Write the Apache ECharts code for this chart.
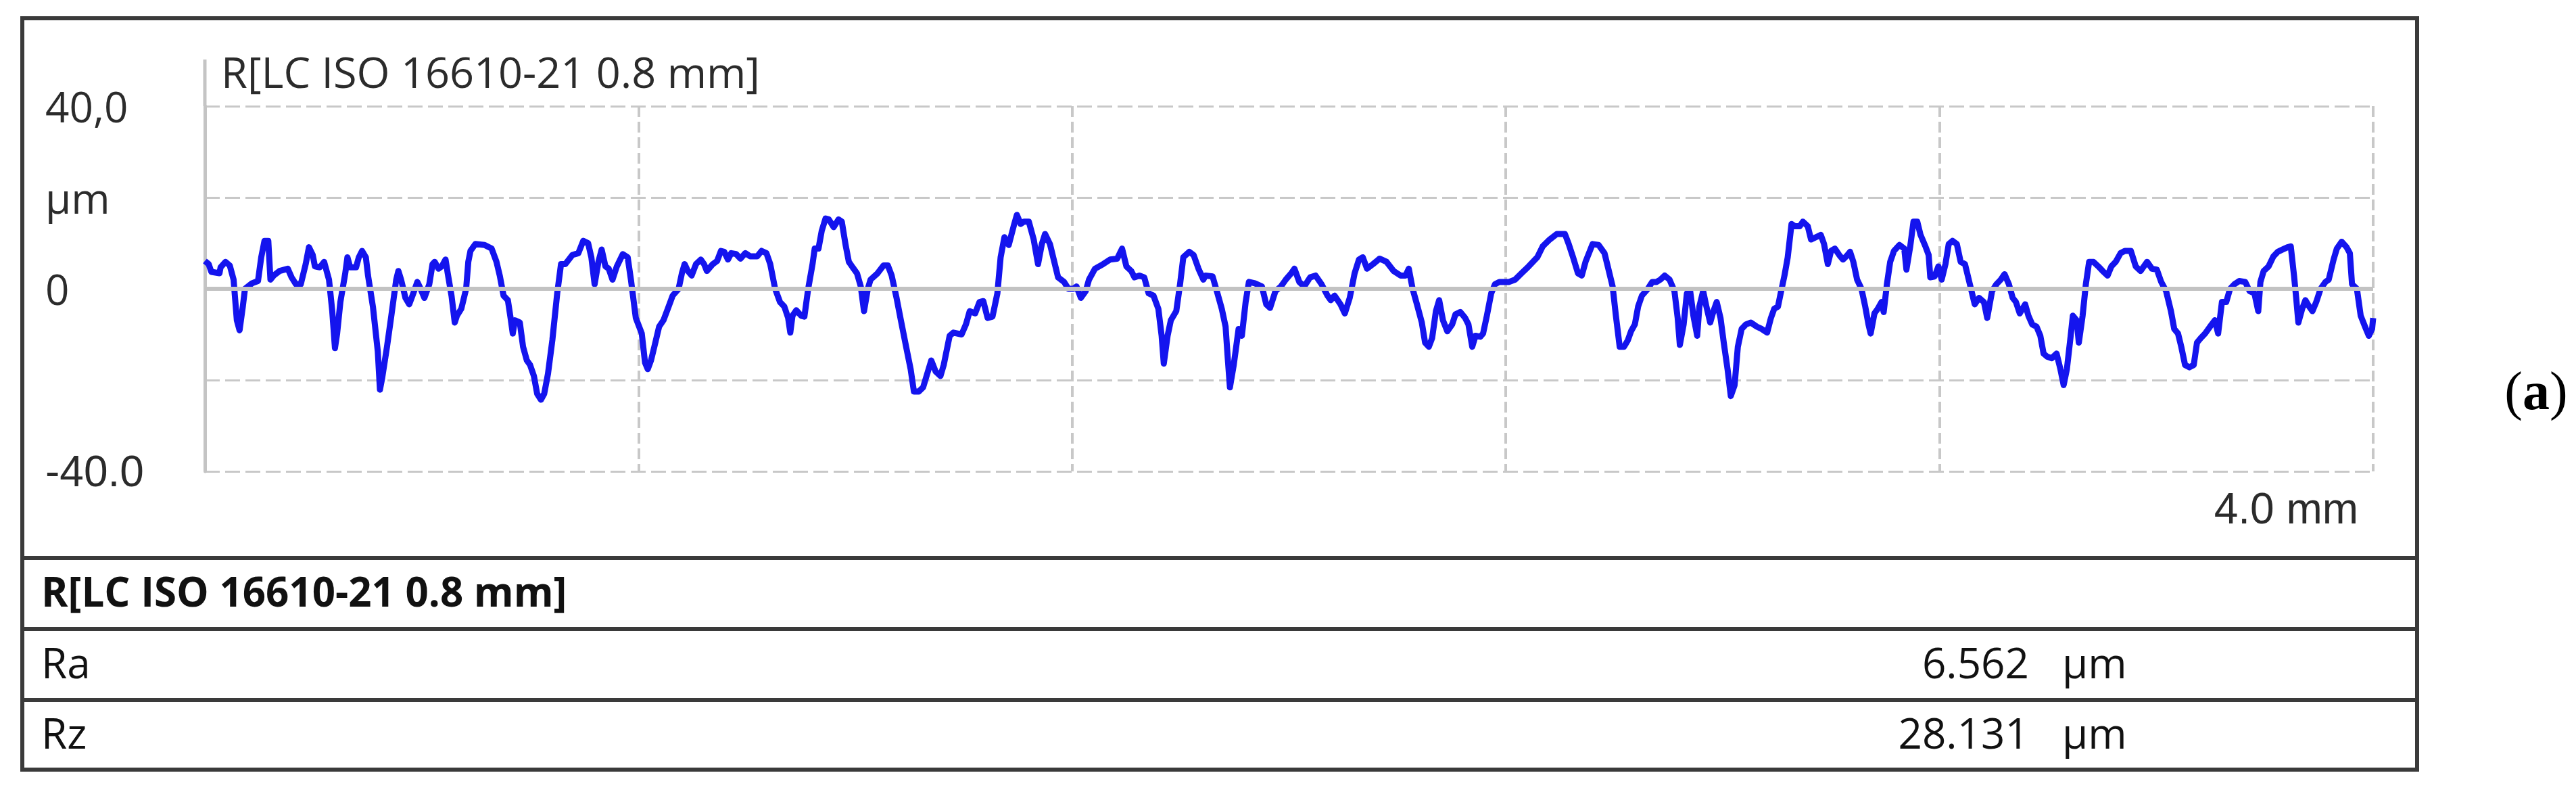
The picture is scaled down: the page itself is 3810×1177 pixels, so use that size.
<!DOCTYPE html>
<html><head><meta charset="utf-8">
<script src="https://cdn.jsdelivr.net/npm/echarts@6/dist/echarts.min.js"></script>
<style>html,body{margin:0;padding:0;background:#fff;}#c{width:3810px;height:1177px;}</style>
</head><body><div id="c"></div>
<script>
const chartTitle = 'R[LC ISO 16610-21 0.8 mm]';
const xEndLabel = '4.0 mm';
const yTickValues = [40, 20, 0, -20, -40];
const yTickText = ['40,0', 'µm', '0', '', '-40.0'];
const tableHeader = 'R[LC ISO 16610-21 0.8 mm]';
const paramNames = ['Ra', 'Rz'];
const paramValues = ['6.562', '28.131'];
const paramUnit = 'µm';
const panelLabel = 'a';

// profile: [position mm, height µm]
const seg1 = [[0.000,6.1],[0.007,5.4],[0.012,3.7],[0.027,3.4],[0.029,4.7],[0.038,5.9],[0.046,5.1],[0.053,2.0],[0.059,-6.9],[0.064,-9.1],[0.070,-3.9],[0.074,0.0],[0.087,1.2],[0.098,1.7],[0.104,6.9],[0.110,10.5],[0.117,10.5],[0.121,2.0],[0.127,2.9],[0.138,3.9],[0.153,4.4],[0.160,2.5],[0.168,1.0],[0.177,1.0],[0.186,5.4],[0.192,9.1],[0.199,7.4],[0.203,4.9],[0.212,4.7],[0.220,5.9],[0.229,2.0],[0.235,-4.9],[0.240,-13.0],[0.244,-9.8],[0.250,-2.9],[0.259,3.4],[0.263,6.9],[0.268,4.7],[0.279,4.7],[0.284,6.9],[0.290,8.3],[0.297,6.9],[0.301,2.9],[0.310,-3.9],[0.319,-13.7],[0.323,-22.1],[0.327,-19.6],[0.336,-12.7],[0.344,-5.9],[0.353,2.0],[0.357,3.9],[0.362,2.0],[0.370,-2.0],[0.377,-3.4],[0.383,-1.5],[0.392,1.5],[0.398,0.0],[0.405,-2.0],[0.414,1.0],[0.420,5.4],[0.424,5.9],[0.431,4.4],[0.437,4.9],[0.444,6.4],[0.448,3.4],[0.455,-1.5],[0.461,-7.4],[0.465,-5.9],[0.473,-4.4],[0.482,0.0],[0.486,5.9],[0.490,8.3],[0.499,9.8],[0.516,9.6],[0.529,8.8],[0.538,5.9],[0.544,2.9],[0.551,-1.5],[0.559,-2.5],[0.564,-6.4],[0.568,-9.8],[0.572,-6.9],[0.581,-7.4],[0.587,-12.7],[0.594,-15.7],[0.600,-16.7],[0.607,-19.1],[0.613,-23.0],[0.620,-24.3],[0.626,-23.0],[0.633,-18.6],[0.641,-11.3],[0.650,-1.0],[0.657,5.4]];
const seg2 = [[0.665,5.4],[0.678,7.4],[0.689,7.8],[0.698,10.5],[0.707,10.0],[0.713,6.9],[0.719,1.0],[0.726,5.9],[0.732,8.6],[0.739,4.9],[0.745,4.4],[0.752,2.0],[0.760,4.9],[0.771,7.6],[0.780,6.9],[0.786,2.0],[0.795,-6.4],[0.806,-9.8],[0.812,-16.2],[0.817,-17.6],[0.823,-15.7],[0.830,-12.3],[0.838,-8.3],[0.846,-6.9],[0.854,-4.4],[0.863,-1.5],[0.874,0.0],[0.880,3.4],[0.885,5.4],[0.891,3.9],[0.898,2.9],[0.906,5.4],[0.915,6.4],[0.921,5.4],[0.926,3.9],[0.937,5.4],[0.945,6.1],[0.952,8.3],[0.958,8.1],[0.965,6.4],[0.971,7.8],[0.980,7.6],[0.988,6.6],[0.997,7.8],[1.006,7.1],[1.019,7.1],[1.027,8.3],[1.036,7.8],[1.043,5.4],[1.052,0.0],[1.061,-2.9],[1.069,-3.9],[1.076,-6.4],[1.080,-9.6],[1.084,-5.9],[1.091,-4.7],[1.100,-5.9],[1.106,-6.1],[1.113,0.0],[1.121,5.4],[1.125,8.8],[1.132,8.8],[1.138,12.7],[1.145,15.4],[1.151,15.2],[1.160,13.5],[1.169,15.2],[1.175,14.7],[1.182,9.6],[1.188,5.9],[1.195,4.7],[1.203,3.4],[1.210,0.5],[1.216,-4.9],[1.223,0.0],[1.228,2.0],[1.241,3.4],[1.252,5.1],[1.260,5.1],[1.267,2.9],[1.276,-2.0],[1.284,-6.9],[1.293,-12.3],[1.302,-17.6],[1.308,-22.5],[1.317,-22.5],[1.325,-21.6]];
const seg3 = [[1.340,-15.7],[1.348,-18.1],[1.357,-19.1],[1.363,-16.7],[1.374,-10.3],[1.381,-9.6],[1.396,-10.0],[1.404,-7.8],[1.411,-4.9],[1.421,-5.4],[1.429,-2.9],[1.436,-2.7],[1.444,-6.4],[1.453,-6.1],[1.462,-1.0],[1.468,6.9],[1.475,11.3],[1.483,9.6],[1.492,13.7],[1.498,16.2],[1.505,14.2],[1.511,14.7],[1.520,14.7],[1.529,10.8],[1.537,5.4],[1.544,9.8],[1.550,12.0],[1.559,9.8],[1.567,5.9],[1.574,2.5],[1.585,1.5],[1.593,0.0],[1.602,0.0],[1.608,0.5],[1.616,-2.0],[1.625,-0.5],[1.631,2.0],[1.642,4.4],[1.657,5.4],[1.670,6.4],[1.683,6.6],[1.692,8.8],[1.700,4.9],[1.709,3.9],[1.715,2.5],[1.724,2.9],[1.733,2.5],[1.741,-1.0],[1.750,-1.5],[1.759,-4.4],[1.765,-10.3],[1.769,-16.4],[1.776,-10.3],[1.782,-6.9],[1.792,-4.9],[1.799,1.0],[1.805,6.9],[1.816,8.1],[1.824,7.4],[1.833,4.4],[1.842,2.0],[1.846,2.9],[1.859,2.7],[1.868,-1.0],[1.876,-4.4],[1.883,-8.3],[1.887,-15.2],[1.891,-21.6],[1.898,-16.7],[1.907,-8.8],[1.913,-10.3],[1.920,-2.9],[1.926,1.5],[1.937,1.2],[1.950,0.5],[1.958,-3.4],[1.965,-4.2],[1.975,-0.5],[1.985,0.5],[1.994,2.0],[2.004,3.4]];
const seg4 = [[2.010,4.4],[2.019,1.5],[2.028,0.5],[2.039,2.5],[2.049,2.9],[2.060,1.0],[2.071,-1.5],[2.077,-2.5],[2.084,-1.5],[2.095,-3.4],[2.103,-5.4],[2.112,-2.0],[2.121,3.4],[2.129,6.4],[2.136,6.9],[2.144,4.4],[2.155,5.4],[2.167,6.6],[2.180,5.9],[2.193,3.9],[2.206,2.9],[2.215,2.9],[2.221,4.4],[2.228,0.0],[2.236,-3.4],[2.245,-7.4],[2.251,-11.8],[2.258,-12.7],[2.264,-10.8],[2.271,-4.9],[2.277,-2.5],[2.284,-6.9],[2.292,-9.3],[2.301,-7.8],[2.307,-5.6],[2.316,-5.1],[2.325,-6.4],[2.331,-7.8],[2.338,-12.7],[2.344,-10.3],[2.353,-10.5],[2.358,-9.8],[2.365,-5.9],[2.373,-1.0],[2.380,1.0],[2.388,1.5],[2.406,1.5],[2.417,2.0],[2.429,3.4],[2.442,4.9],[2.458,6.9],[2.468,9.3],[2.481,10.8],[2.494,12.0],[2.509,12.0],[2.516,9.8],[2.524,6.9],[2.533,3.4],[2.540,2.9],[2.547,5.9],[2.560,9.8],[2.571,9.6],[2.582,7.8],[2.588,4.9],[2.597,0.5],[2.603,-5.9],[2.610,-12.7],[2.618,-12.7],[2.625,-11.3],[2.631,-9.3],[2.638,-7.8],[2.644,-3.9],[2.651,-1.5],[2.662,0.0],[2.670,1.5]];
const seg5 = [[2.678,1.5],[2.685,2.0],[2.693,2.9],[2.702,2.0],[2.711,-0.5],[2.717,-6.4],[2.721,-12.3],[2.728,-7.8],[2.734,-1.0],[2.740,-0.5],[2.746,-5.9],[2.753,-10.3],[2.757,-3.9],[2.764,-0.5],[2.770,-3.9],[2.777,-7.4],[2.783,-4.9],[2.789,-2.9],[2.796,-6.4],[2.802,-11.8],[2.809,-17.6],[2.815,-23.5],[2.822,-21.1],[2.828,-12.7],[2.835,-8.8],[2.843,-7.8],[2.852,-7.4],[2.863,-8.3],[2.872,-8.8],[2.882,-9.6],[2.889,-6.4],[2.895,-4.4],[2.902,-3.9],[2.907,-1.0],[2.914,2.9],[2.920,6.9],[2.927,14.2],[2.933,13.7],[2.942,13.7],[2.948,14.7],[2.957,13.7],[2.963,10.8],[2.972,11.3],[2.981,11.8],[2.987,9.8],[2.994,5.4],[3.000,8.3],[3.007,8.8],[3.015,7.4],[3.022,6.4],[3.028,7.1],[3.035,8.1],[3.041,5.9],[3.048,2.0],[3.056,0.0],[3.063,-3.9],[3.069,-7.8],[3.073,-9.8],[3.080,-5.4],[3.086,-4.4],[3.093,-2.9],[3.097,-5.1],[3.103,1.0],[3.109,5.9],[3.116,8.3],[3.126,9.6],[3.135,8.8],[3.139,4.2],[3.146,9.3],[3.152,14.7],[3.159,14.7],[3.165,11.8],[3.174,9.3],[3.180,7.4],[3.183,2.5],[3.191,2.7],[3.198,4.9],[3.204,2.0],[3.211,5.4],[3.217,9.8],[3.224,10.5],[3.232,9.8],[3.239,5.9],[3.247,5.4],[3.256,1.0],[3.265,-3.4],[3.273,-2.0],[3.282,-2.9],[3.288,-6.4],[3.297,-0.5],[3.305,1.0],[3.313,2.0],[3.320,3.2],[3.328,1.0],[3.335,-2.0],[3.341,-2.9],[3.348,-5.4]];
const seg6 = [[3.358,-3.4],[3.364,-5.9],[3.371,-7.8],[3.379,-8.3],[3.386,-10.3],[3.392,-14.2],[3.399,-14.9],[3.407,-15.2],[3.416,-14.2],[3.423,-17.6],[3.429,-21.1],[3.435,-17.6],[3.442,-10.3],[3.446,-5.9],[3.453,-6.9],[3.457,-11.8],[3.464,-5.9],[3.470,1.0],[3.476,5.9],[3.484,5.9],[3.493,4.9],[3.501,3.9],[3.510,2.9],[3.517,4.9],[3.525,5.9],[3.534,7.8],[3.542,8.3],[3.553,8.3],[3.562,4.9],[3.571,3.9],[3.577,4.9],[3.583,5.9],[3.592,4.4],[3.601,4.2],[3.609,1.5],[3.618,-0.5],[3.627,-4.9],[3.633,-8.8],[3.640,-9.8],[3.646,-12.7],[3.653,-16.7],[3.661,-17.2],[3.669,-16.7],[3.675,-11.8],[3.682,-10.8],[3.690,-9.8],[3.699,-8.3],[3.708,-6.9],[3.714,-9.8],[3.721,-2.9],[3.729,-2.9],[3.736,0.0],[3.744,1.0],[3.753,1.7],[3.764,1.5],[3.772,-0.5],[3.781,-1.0],[3.788,-4.9],[3.792,1.5],[3.798,3.9],[3.807,4.9],[3.816,7.1],[3.824,8.1],[3.833,8.6],[3.842,9.1],[3.848,9.3],[3.854,2.9],[3.858,-2.0],[3.862,-7.4],[3.869,-4.4],[3.875,-2.5],[3.882,-3.9],[3.888,-4.9],[3.895,-2.9],[3.903,0.0],[3.912,1.5],[3.918,2.0],[3.927,6.4],[3.933,8.8],[3.942,10.3],[3.951,9.1],[3.957,7.8],[3.961,1.0],[3.970,0.0],[3.977,-5.9],[3.985,-8.3],[3.992,-10.3],[3.998,-8.8],[4.000,-6.4]];

const profile = seg1.concat(seg2, seg3, seg4, seg5, seg6);

const textColor = '#2b2b2b';
const chart = echarts.init(document.getElementById('c'), null, {renderer: 'svg', width: 3810, height: 1177});

chart.setOption({
  animation: false,
  backgroundColor: '#ffffff',
  title: {
    text: chartTitle, left: 322, top: 65,
    textStyle: {fontFamily: 'Open Sans', fontSize: 63, fontWeight: 'normal', color: textColor, lineHeight: 70}
  },
  grid: {left: 303, right: 300, top: 157, bottom: 480, containLabel: false},
  xAxis: {
    type: 'value', min: 0, max: 4, interval: 0.8,
    axisLine: {show: false, onZero: false},
    axisTick: {show: false},
    splitLine: {show: true, lineStyle: {color: '#c8c8c8', width: 4, type: [16, 7]}},
    axisLabel: {
      show: true, showMinLabel: false, showMaxLabel: true, margin: 55, verticalAlign: 'middle', align: 'right',
      formatter: function (v) { return Math.abs(v - 4) < 1e-6 ? '{u|' + xEndLabel + '}' : ''; },
      rich: {u: {fontFamily: 'Liberation Sans', fontSize: 64, color: textColor, padding: [0, 22, 0, 0]}}
    }
  },
  yAxis: {
    type: 'value', min: -40, max: 40, interval: 20,
    axisLine: {show: true, onZero: false, lineStyle: {color: '#c4c4c4', width: 5}},
    axisTick: {show: false},
    splitLine: {show: true, lineStyle: {color: '#c8c8c8', width: 3, type: [22, 8]}},
    axisLabel: {
      align: 'left', margin: 236,
      formatter: function (v) {
        const i = yTickValues.indexOf(Math.round(v));
        if (i < 0 || !yTickText[i]) return '';
        const s = yTickText[i];
        return s.charAt(0) === '-' ? '{l|' + s + '}' : '{o|' + s + '}';
      },
      rich: {
        o: {fontFamily: 'Open Sans', fontSize: 62, color: textColor},
        l: {fontFamily: 'Liberation Sans', fontSize: 64, color: textColor}
      }
    }
  },
  series: [
    {
      name: 'zero', type: 'line', data: [], z: 1, silent: true,
      markLine: {silent: true, symbol: 'none', label: {show: false}, animation: false,
        lineStyle: {color: '#c2c2c2', width: 6, type: 'solid'}, data: [{yAxis: 0}]}
    },
    {
      name: 'R profile', type: 'line', data: profile, z: 3,
      showSymbol: false, symbol: 'none', smooth: false,
      lineStyle: {color: '#1414ee', width: 9, join: 'round'}
    }
  ]
});

const axX = chart.convertToPixel({xAxisIndex: 0}, 0);
const axTop = chart.convertToPixel({yAxisIndex: 0}, 40);
const boxL = 33, boxT = 27, boxR = 3575, boxB = 1138;
const rowLines = [825, 930, 1035];
const border = '#3a3a3a';
const graphics = [
  {type: 'line', shape: {x1: axX, y1: 88, x2: axX, y2: axTop}, style: {stroke: '#c4c4c4', lineWidth: 5}, z: 5},
  {type: 'rect', shape: {x: boxL, y: boxT, width: boxR - boxL, height: boxB - boxT}, style: {fill: null, stroke: border, lineWidth: 6}, z: 10}
];
rowLines.forEach(function (y) {
  graphics.push({type: 'line', shape: {x1: boxL, y1: y, x2: boxR, y2: y}, style: {stroke: border, lineWidth: 6}, z: 10});
});
graphics.push({type: 'text', x: 61, y: 874, z: 10, style: {text: tableHeader, fontFamily: 'Open Sans', fontSize: 60, fontWeight: 'bold', fill: '#111', align: 'left', verticalAlign: 'middle'}});
const rowY = [979, 1083];
paramNames.forEach(function (n, i) {
  graphics.push({type: 'text', x: 61, y: rowY[i], z: 10, style: {text: n, fontFamily: 'Open Sans', fontSize: 62, fill: '#111', align: 'left', verticalAlign: 'middle'}});
  graphics.push({type: 'text', x: 3001, y: rowY[i], z: 10, style: {text: paramValues[i], fontFamily: 'Open Sans', fontSize: 62, fill: '#111', align: 'right', verticalAlign: 'middle'}});
  graphics.push({type: 'text', x: 3050, y: rowY[i], z: 10, style: {text: paramUnit, fontFamily: 'Open Sans', fontSize: 62, fill: '#111', align: 'left', verticalAlign: 'middle'}});
});
graphics.push({type: 'text', x: 3751, y: 578, z: 10, style: {
  text: '{p|(}{b|' + panelLabel + '}{p|)}', align: 'center', verticalAlign: 'middle',
  rich: {p: {fontFamily: 'Liberation Serif', fontSize: 80, fill: '#000'}, b: {fontFamily: 'Liberation Serif', fontSize: 80, fontWeight: 'bold', fill: '#000'}}
}});
chart.setOption({graphic: graphics});
</script>
</body></html>
